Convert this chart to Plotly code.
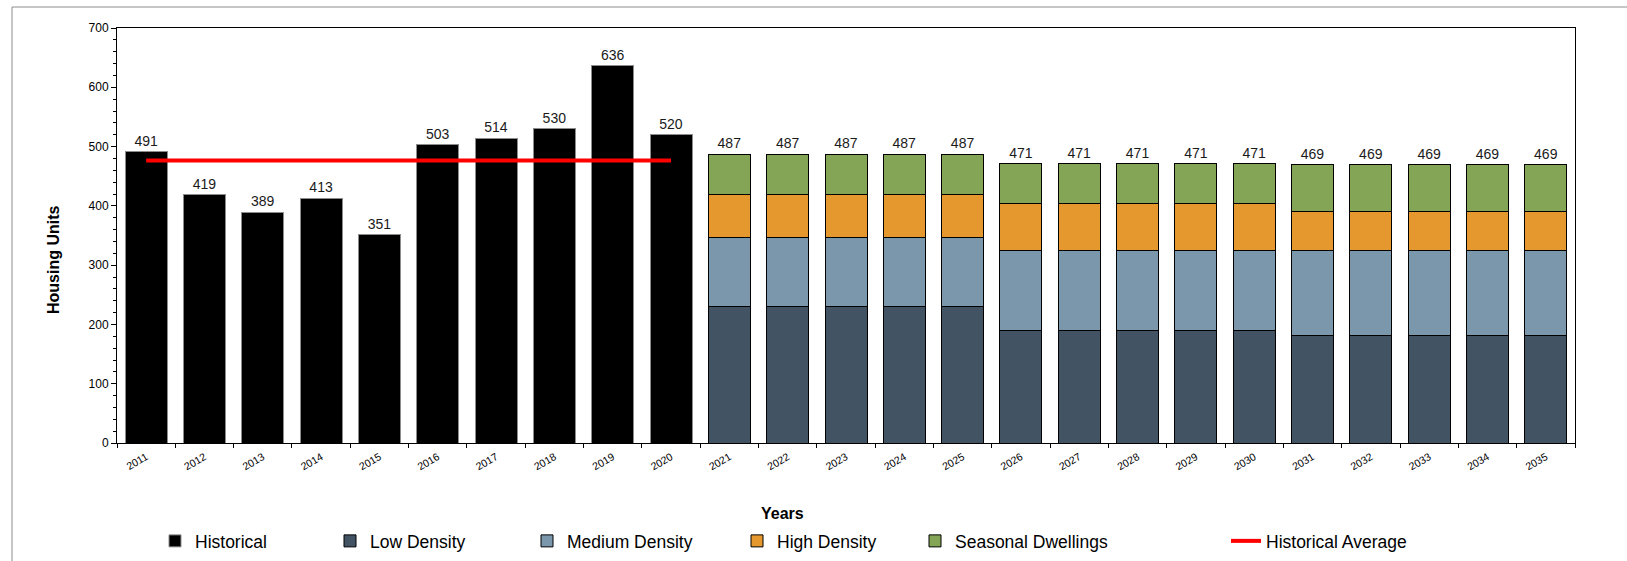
import plotly.graph_objects as go

hist_years = ["2011", "2012", "2013", "2014", "2015", "2016", "2017", "2018", "2019", "2020"]
hist_values = [491, 419, 389, 413, 351, 503, 514, 530, 636, 520]

fc_years = [str(y) for y in range(2021, 2036)]
low_density = [231] * 5 + [190] * 5 + [182] * 5
medium_density = [116] * 5 + [135] * 5 + [143] * 5
high_density = [73] * 5 + [79] * 5 + [66] * 5
seasonal = [67] * 5 + [67] * 5 + [78] * 5
fc_totals = [487] * 5 + [471] * 5 + [469] * 5

hist_avg = [476.6] * len(hist_years)

FONT = "Liberation Sans, Arial, sans-serif"
L, R, T, B = 117, 52, 28, 118
W, H = 1627, 561
PW = W - L - R
PH = H - T - B


def px_x(p):
    return (p - L) / PW


def px_y(p):
    return (H - B - p) / PH


fig = go.Figure()

fig.add_trace(go.Bar(
    x=hist_years, y=hist_values, name="Historical",
    marker=dict(color="#000000", line=dict(color="#8c8c8c", width=1)),
    text=[str(v) for v in hist_values], textposition="outside",
    textfont=dict(size=14, color="#1a1a1a", family=FONT), cliponaxis=False,
    legend="legend",
))

series = [
    ("Low Density", low_density, "#425363", "legend2"),
    ("Medium Density", medium_density, "#7b97ab", "legend3"),
    ("High Density", high_density, "#e4982e", "legend4"),
    ("Seasonal Dwellings", seasonal, "#84a556", "legend5"),
]
for i, (name, vals, col, lg) in enumerate(series):
    kw = {}
    if i == len(series) - 1:
        kw = dict(text=[str(v) for v in fc_totals], textposition="outside",
                  textfont=dict(size=14, color="#1a1a1a", family=FONT), cliponaxis=False)
    fig.add_trace(go.Bar(
        x=fc_years, y=vals, name=name,
        marker=dict(color=col, line=dict(color="#000000", width=1)),
        legend=lg, **kw,
    ))

fig.add_trace(go.Scatter(
    x=hist_years, y=hist_avg, name="Historical Average", mode="lines",
    line=dict(color="#ff0000", width=4), legend="legend6",
))

legend_text_px = [195, 370, 567, 777, 955, 1266]
legend_common = dict(
    orientation="h", xanchor="left", yanchor="middle", y=px_y(541),
    font=dict(size=17.5, color="#000000", family=FONT), bgcolor="rgba(0,0,0,0)",
    borderwidth=0,
)
legends = {}
for i, tx in enumerate(legend_text_px):
    key = "legend" if i == 0 else f"legend{i + 1}"
    legends[key] = dict(x=px_x(tx - 40), **legend_common)

fig.update_layout(
    width=W, height=H,
    margin=dict(l=L, r=R, t=T, b=B, autoexpand=False),
    paper_bgcolor="white", plot_bgcolor="white",
    barmode="stack", bargap=0.28,
    font=dict(family=FONT, color="#000000"),
    showlegend=True,
    **legends,
    xaxis=dict(
        type="category",
        categoryorder="array", categoryarray=hist_years + fc_years,
        tickangle=-30, tickfont=dict(size=10.5, family=FONT, color="#000000"),
        ticks="outside", ticklen=4, tickcolor="#000000", tickson="boundaries",
        ticklabelstandoff=3,
        showline=True, linecolor="#000000", linewidth=1, mirror=True,
        showgrid=False, zeroline=False,
    ),
    yaxis=dict(
        range=[0, 700], dtick=100, tickfont=dict(size=12, family=FONT, color="#000000"),
        ticks="outside", ticklen=5, tickcolor="#000000",
        minor=dict(dtick=20, ticks="outside", ticklen=3, tickcolor="#000000"),
        showline=True, linecolor="#000000", linewidth=1, mirror=True,
        showgrid=False, zeroline=False,
    ),
    annotations=[
        dict(text="<b>Years</b>", x=px_x(782), y=px_y(513), xref="paper", yref="paper",
             showarrow=False, font=dict(size=16, family=FONT, color="#000000"),
             xanchor="center", yanchor="middle"),
        dict(text="<b>Housing Units</b>", x=px_x(53), y=px_y(260), xref="paper", yref="paper",
             showarrow=False, textangle=-90, font=dict(size=16, family=FONT, color="#000000"),
             xanchor="center", yanchor="middle"),
    ],
    shapes=[
        dict(type="rect", xref="paper", yref="paper",
             x0=px_x(12), x1=px_x(1700), y0=px_y(620), y1=px_y(7),
             line=dict(color="#8c8c8c", width=1), fillcolor="rgba(0,0,0,0)", layer="below"),
    ],
)

fig.write_html("out.html")
